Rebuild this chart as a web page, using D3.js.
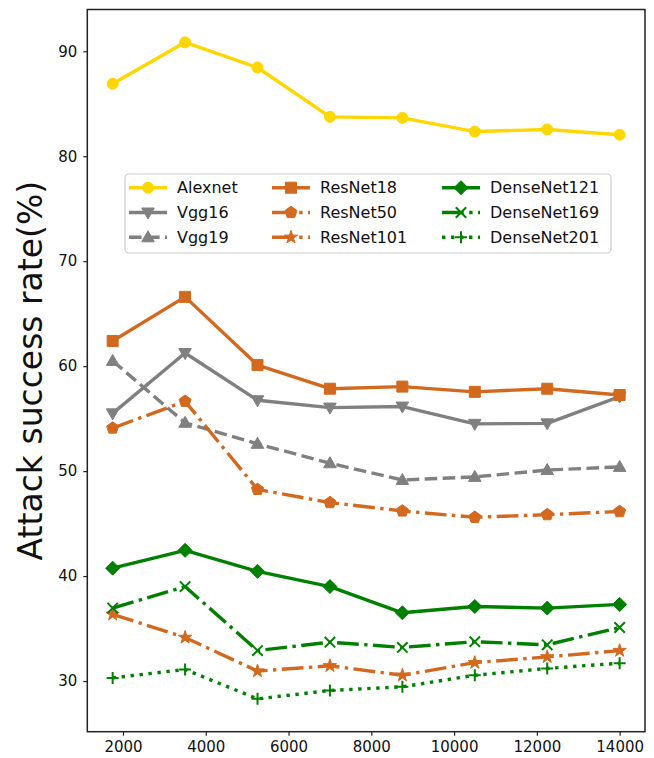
<!DOCTYPE html>
<html>
<head>
<meta charset="utf-8">
<script src="https://cdn.jsdelivr.net/npm/d3@7"></script>
<style>
  body { margin: 0; background: #fff; }
  svg { display: block; font-family: "DejaVu Sans", sans-serif; }
</style>
</head>
<body>
<figure id="chart" style="margin:0"></figure>
<script>
// training-set sizes on the x axis
const steps = [1750, 3500, 5250, 7000, 8750, 10500, 12250, 14000];

// attack success rate (%) per model
const alexnet     = [86.9, 90.85, 88.45, 83.75, 83.65, 82.35, 82.55, 82.05];
const vgg16       = [55.5, 61.25, 56.75, 56.05, 56.15, 54.5, 54.55, 57.1];
const vgg19       = [60.5, 54.6, 52.6, 50.75, 49.15, 49.45, 50.1, 50.4];
const resnet18    = [62.4, 66.6, 60.1, 57.85, 58.05, 57.55, 57.85, 57.25];
const resnet50    = [54.1, 56.65, 48.25, 47.0, 46.2, 45.6, 45.85, 46.15];
const resnet101   = [36.35, 34.15, 30.95, 31.45, 30.55, 31.75, 32.3, 32.9];
const densenet121 = [40.75, 42.45, 40.45, 39.0, 36.5, 37.1, 36.95, 37.3];
const densenet169 = [36.95, 39.0, 32.9, 33.7, 33.2, 33.75, 33.45, 35.1];
const densenet201 = [30.3, 31.1, 28.3, 29.1, 29.45, 30.55, 31.2, 31.7];

const yTicks = [30, 40, 50, 60, 70, 80, 90];
const xTicks = [2000, 4000, 6000, 8000, 10000, 12000, 14000];

const lw = 3.4;
const series = [
  { name: "Alexnet",     values: alexnet,     color: "#FFD700", dash: null,   marker: "circle" },
  { name: "Vgg16",       values: vgg16,       color: "#808080", dash: null,   marker: "tridown" },
  { name: "Vgg19",       values: vgg19,       color: "#808080", dash: "dash", marker: "triup" },
  { name: "ResNet18",    values: resnet18,    color: "#D2691E", dash: null,   marker: "square" },
  { name: "ResNet50",    values: resnet50,    color: "#D2691E", dash: "dashdot", marker: "pentagon" },
  { name: "ResNet101",   values: resnet101,   color: "#D2691E", dash: "dashdot", marker: "star" },
  { name: "DenseNet121", values: densenet121, color: "#008000", dash: null,   marker: "diamond" },
  { name: "DenseNet169", values: densenet169, color: "#008000", dash: "dashdot", marker: "x" },
  { name: "DenseNet201", values: densenet201, color: "#008000", dash: "dot",  marker: "plus" }
];

const dashes = {
  dash: [3.7 * lw, 1.6 * lw].join(","),
  dashdot: [6.4 * lw, 1.6 * lw, 1 * lw, 1.6 * lw].join(","),
  dot: [1 * lw, 1.65 * lw].join(",")
};

const width = 654, height = 758;
const margin = { top: 9.5, right: 9, bottom: 26.3, left: 87.3 };

const svg = d3.select("figure#chart")
  .append("svg")
  .attr("width", width)
  .attr("height", height);

// matplotlib-style 5% padding around the data
const allY = series.flatMap(s => s.values);
const xPad = (d3.max(steps) - d3.min(steps)) * 0.05;
const yPad = (d3.max(allY) - d3.min(allY)) * 0.05;

const x = d3.scaleLinear()
  .domain([d3.min(steps) - xPad, d3.max(steps) + xPad])
  .range([margin.left, width - margin.right]);

const y = d3.scaleLinear()
  .domain([d3.min(allY) - yPad, d3.max(allY) + yPad])
  .range([height - margin.bottom, margin.top]);

// axes
const xAxis = d3.axisBottom(x).tickValues(xTicks).tickSize(4).tickPadding(6).tickFormat(d3.format("d"));
const yAxis = d3.axisLeft(y).tickValues(yTicks).tickSize(4).tickPadding(6);

const gx = svg.append("g")
  .attr("transform", "translate(0," + (height - margin.bottom) + ")")
  .call(xAxis);
const gy = svg.append("g")
  .attr("transform", "translate(" + margin.left + ",0)")
  .call(yAxis);

[gx, gy].forEach(g => {
  g.select(".domain").remove();
  g.selectAll(".tick line").attr("stroke", "#222").attr("stroke-width", 1.2);
  g.selectAll(".tick text").attr("fill", "#111").attr("font-size", 15)
    .attr("font-family", "DejaVu Sans, sans-serif");
});

svg.append("text")
  .attr("transform", "translate(42," + ((margin.top + height - margin.bottom) / 2) + ") rotate(-90)")
  .attr("text-anchor", "middle")
  .attr("font-size", 33)
  .attr("fill", "#111")
  .text("Attack success rate(%)");

// marker shapes, centred at 0,0
function markerPath(type) {
  const p = d3.path();
  if (type === "circle") {
    p.arc(0, 0, 5.5, 0, 2 * Math.PI);
  } else if (type === "tridown") {
    p.moveTo(-6.3, -4.5); p.lineTo(6.3, -4.5); p.lineTo(0, 6.5); p.closePath();
  } else if (type === "triup") {
    p.moveTo(-6.3, 4.5); p.lineTo(6.3, 4.5); p.lineTo(0, -6.5); p.closePath();
  } else if (type === "square") {
    p.rect(-5.5, -5.5, 11, 11);
  } else if (type === "pentagon") {
    for (let i = 0; i < 5; i++) {
      const a = -Math.PI / 2 + i * 2 * Math.PI / 5;
      const px = 6.3 * Math.cos(a), py = 6.3 * Math.sin(a);
      if (i === 0) p.moveTo(px, py); else p.lineTo(px, py);
    }
    p.closePath();
  } else if (type === "star") {
    for (let i = 0; i < 10; i++) {
      const a = -Math.PI / 2 + i * Math.PI / 5;
      const r = i % 2 === 0 ? 7 : 7 * 0.382;
      const px = r * Math.cos(a), py = r * Math.sin(a);
      if (i === 0) p.moveTo(px, py); else p.lineTo(px, py);
    }
    p.closePath();
  } else if (type === "diamond") {
    p.moveTo(0, -7); p.lineTo(7, 0); p.lineTo(0, 7); p.lineTo(-7, 0); p.closePath();
  } else if (type === "x") {
    p.moveTo(-5.2, -5.2); p.lineTo(5.2, 5.2); p.moveTo(-5.2, 5.2); p.lineTo(5.2, -5.2);
  } else if (type === "plus") {
    p.moveTo(-6, 0); p.lineTo(6, 0); p.moveTo(0, -6); p.lineTo(0, 6);
  }
  return p.toString();
}

function drawMarker(g, s, cx, cy) {
  const stroked = s.marker === "x" || s.marker === "plus";
  g.append("path")
    .attr("d", markerPath(s.marker))
    .attr("transform", "translate(" + cx + "," + cy + ")")
    .attr("fill", stroked ? "none" : s.color)
    .attr("stroke", s.color)
    .attr("stroke-width", stroked ? 2 : 1)
    .attr("stroke-linejoin", "miter");
}

const line = d3.line()
  .x((d, i) => x(steps[i]))
  .y(d => y(d));

const plot = svg.append("g");

series.forEach(s => {
  const g = plot.append("g");
  g.append("path")
    .datum(s.values)
    .attr("d", line)
    .attr("fill", "none")
    .attr("stroke", s.color)
    .attr("stroke-width", lw)
    .attr("stroke-linejoin", "round")
    .attr("stroke-dasharray", s.dash ? dashes[s.dash] : null);
  s.values.forEach((v, i) => drawMarker(g, s, x(steps[i]), y(v)));
});

// frame
svg.append("rect")
  .attr("x", margin.left)
  .attr("y", margin.top)
  .attr("width", width - margin.left - margin.right)
  .attr("height", height - margin.top - margin.bottom)
  .attr("fill", "none")
  .attr("stroke", "#222")
  .attr("stroke-width", 1.5);

// legend
const legend = svg.append("g").attr("transform", "translate(125,174)");
legend.append("rect")
  .attr("width", 486)
  .attr("height", 79)
  .attr("rx", 4)
  .attr("fill", "#fff")
  .attr("fill-opacity", 0.85)
  .attr("stroke", "#ccc")
  .attr("stroke-width", 1.2);

const colX = [4, 147, 317];
series.forEach((s, i) => {
  const col = Math.floor(i / 3), row = i % 3;
  const lg = legend.append("g")
    .attr("transform", "translate(" + colX[col] + "," + (13.7 + row * 24.8) + ")");
  lg.append("line")
    .attr("x1", 0).attr("x2", 38)
    .attr("stroke", s.color)
    .attr("stroke-width", lw)
    .attr("stroke-dasharray", s.dash ? dashes[s.dash] : null);
  drawMarker(lg, s, 19, 0);
  lg.append("text")
    .attr("x", 48)
    .attr("dy", "0.35em")
    .attr("font-size", 16)
    .attr("fill", "#111")
    .text(s.name);
});
</script>
</body>
</html>
